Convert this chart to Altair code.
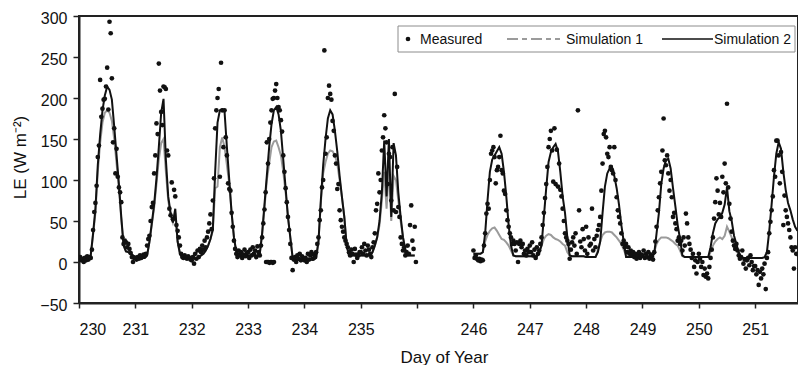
import altair as alt
import pandas as pd

# ---------------- data ----------------
TICK_LABELS = ["230", "231", "232", "233", "234", "235", "", "246", "247", "248", "249", "250", "251"]
LEGEND_LABELS = ["Measured", "Simulation 1", "Simulation 2"]
Y_TICKS = [-50, 0, 50, 100, 150, 200, 250, 300]

# Measured LE, half-hourly (W m-2)
m230 = [3, 6, 2, 4, 0, 5, 2, 7, 3, 6, 5, 15, 39, 61, 72, 93, 128, 142, 222, 177,
        187, 198, 199, 214, 237, 186, 293, 279, 224, 146, 163, 108, 138, 104, 91, 85, 73, 30, 22, 26,
        24, 18, 22, 16, 11, 6, 0, 5]
m231 = [5, 3, 6, 4, 8, 5, 7, 9, 8, 10, 20, 28, 32, 50, 67, 72, 108, 130, 169, 156,
        242, 209, 183, 167, 214, 213, 211, 136, 130, 65, 57, 97, 52, 88, 80, 45, 38, 30, 20, 10,
        6, 5, 8, 6, 4, 7, 5, 3]
m232 = [2, 6, -2, 10, 4, 14, 6, 16, 12, 20, 15, 26, 18, 30, 37, 47, 58, 40, 75, 102,
        163, 185, 200, 211, 104, 243, 185, 140, 185, 152, 130, 96, 89, 87, 60, 43, 26, 16, 10, 6,
        14, 8, 12, 5, 9, 15, 7, 11]
m233 = [12, 5, 15, 8, 18, 10, 14, 6, 19, 12, 8, 20, 30, 47, 64, 85, 146, 120, 150, 170,
        185, 199, 200, 209, 217, 200, 189, 185, 173, 159, 130, 110, 90, 73, 55, 39, 22, 5, -10, 3,
        6, 0, 8, 4, 10, 2, 7, 3]
m234 = [2, 5, 0, 10, 3, 8, 12, 4, 9, 6, 12, 22, 30, 51, 63, 91, 100, 258, 132, 152,
        200, 215, 205, 198, 172, 160, 130, 120, 89, 95, 63, 51, 43, 37, 30, 26, 22, 18, 12, 8,
        15, 10, 0, 16, 9, 5, 8, 12]
m235 = [12, 18, 10, 22, 14, 8, 20, 15, 10, 6, 18, 24, 35, 63, 71, 108, 85, 100, 136, 152,
        179, 163, 146, 95, 132, 128, 75, 140, 63, 205, 61, 116, 67, 55, 30, 22, 14, 18, 8, 12,
        20, 10, 45, 69, 26, 16, 43, 0]
m246 = [14, 5, 8, 4, 2, 4, 1, 3, 2, 20, 35, 59, 71, 65, 100, 132, 136, 140, 128, 96,
        112, 116, 128, 154, 112, 108, 87, 83, 63, 51, 43, 35, 30, 22, 26, 22, 14, 24, 0, 22,
        26, 18, 22, 10, 14, 8, 16, 12]
m247 = [20, 12, 24, 8, 15, 5, 18, 10, 14, 22, 30, 45, 60, 78, 95, 116, 140, 150, 160, 136,
        98, 163, 95, 137, 92, 120, 88, 80, 65, 50, 35, 30, 26, 22, 4, 15, 24, 30, 20, 35,
        10, 185, 63, 25, 18, 40, 28, 14]
m248 = [43, 10, 30, 20, 22, 65, 14, 28, 18, 32, 39, 45, 55, 87, 120, 156, 160, 152, 132, 128,
        140, 116, 112, 108, 140, 100, 79, 63, 55, 47, 35, 22, 26, 18, 22, 12, 18, 10, 14, 8,
        12, 6, 10, 4, 8, 12, 5, 9]
m249 = [8, 14, 5, 10, 6, 12, 4, 9, 7, 3, 12, 25, 43, 63, 79, 96, 110, 136, 175, 124,
        118, 130, 108, 87, 100, 79, 55, 60, 47, 40, 26, 30, 22, 26, 14, 30, 20, 59, 47, 30,
        22, 15, 5, 10, -6, 2, -14, 0]
m250 = [10, 4, -6, 0, -16, -8, -18, -14, -20, -6, 5, 15, 30, 53, 73, 102, 87, 58, 72, 55,
        104, 85, 120, 96, 193, 91, 71, 53, 37, 26, 20, 16, 22, 14, 8, 4, 6, 14, -2, 3,
        -8, 2, 5, -4, 8, 0, -10, -5]
m251 = [-5, -15, -10, -28, -12, -20, -8, -15, -2, -33, 5, 12, 35, 49, 63, 80, 112, 104, 148, 148,
        130, 96, 134, 110, 45, 81, 63, 55, 47, 39, 30, 18, 14, -8, 18, 10]

# extra measured points (zero readings, day 233 morning)
extra_days = [233.32, 233.34, 233.36, 233.38, 233.40, 233.42, 233.44, 233.46]
extra_vals = [0, 0, 0, -1, 0, 0, -1, 0]

# Simulation 1, hourly
s1_230 = [3, 3, 3, 3, 3, 8, 33, 60, 110, 145, 170, 182, 185, 182, 172, 150, 120, 90, 52, 20, 13, 12, 10, 8]
s1_231 = [6, 5, 5, 5, 5, 8, 24, 45, 66, 95, 125, 145, 150, 110, 75, 58, 48, 60, 25, 10, 6, 5, 5, 6]
s1_232 = [5, 4, 4, 6, 8, 10, 14, 20, 28, 38, 90, 92, 140, 152, 140, 118, 95, 60, 30, 12, 10, 9, 9, 8]
s1_233 = [8, 8, 8, 8, 8, 10, 33, 65, 100, 120, 140, 147, 148, 140, 130, 110, 85, 55, 30, 5, 3, 3, 3, 3]
s1_234 = [3, 3, 3, 3, 3, 5, 25, 72, 108, 122, 132, 136, 135, 130, 120, 100, 79, 55, 20, 8, 8, 8, 8, 8]
s1_235 = [8, 8, 8, 8, 8, 12, 20, 30, 45, 75, 110, 65, 115, 50, 105, 100, 75, 50, 30, 15, 8, 8, 8, 8]
s1_246 = [10, 10, 10, 10, 12, 25, 33, 38, 41, 42, 38, 33, 28, 27, 24, 20, 14, 8, 7, 7, 7, 7, 7, 7]
s1_247 = [7, 7, 7, 7, 10, 20, 28, 32, 34, 33, 30, 28, 27, 25, 22, 20, 12, 8, 7, 7, 7, 7, 7, 7]
s1_248 = [6, 6, 6, 6, 6, 15, 25, 33, 36, 37, 37, 36, 33, 30, 26, 22, 15, 8, 6, 6, 6, 6, 6, 6]
s1_249 = [6, 6, 6, 6, 6, 12, 22, 27, 30, 30, 30, 29, 27, 25, 22, 20, 14, 7, 6, 6, 6, 6, 6, 6]
s1_250 = [6, 6, 6, 6, 6, 12, 20, 25, 28, 30, 28, 32, 43, 37, 30, 22, 16, 10, 6, 5, 5, 5, 5, 5]

# Simulation 2, hourly
s2_230 = [3, 3, 3, 3, 3, 8, 35, 65, 118, 155, 185, 203, 214, 210, 198, 165, 130, 95, 55, 20, 13, 12, 10, 8]
s2_231 = [6, 5, 5, 5, 5, 8, 25, 47, 70, 102, 140, 182, 199, 125, 80, 60, 48, 65, 25, 10, 6, 5, 5, 6]
s2_232 = [5, 4, 4, 6, 8, 10, 14, 20, 28, 40, 110, 170, 185, 186, 183, 140, 100, 60, 30, 12, 10, 9, 9, 8]
s2_233 = [8, 8, 8, 8, 8, 10, 35, 70, 105, 140, 168, 185, 189, 180, 160, 125, 90, 55, 30, 5, 3, 3, 3, 3]
s2_234 = [3, 3, 3, 3, 3, 5, 25, 75, 118, 150, 175, 185, 180, 160, 135, 105, 79, 55, 20, 8, 8, 8, 8, 8]
s2_235 = [8, 8, 8, 8, 8, 12, 20, 30, 50, 85, 148, 80, 150, 55, 145, 130, 85, 55, 30, 15, 8, 8, 8, 8]
s2_246 = [10, 10, 10, 10, 12, 35, 75, 110, 125, 130, 135, 140, 132, 110, 80, 45, 20, 8, 7, 7, 7, 7, 7, 7]
s2_247 = [7, 7, 7, 7, 12, 20, 55, 90, 122, 134, 140, 144, 135, 110, 80, 60, 30, 8, 7, 7, 7, 7, 7, 7]
s2_248 = [6, 6, 6, 6, 6, 12, 25, 60, 92, 108, 114, 116, 105, 90, 70, 45, 25, 6, 6, 6, 6, 6, 6, 6]
s2_249 = [6, 6, 6, 6, 6, 10, 35, 60, 95, 114, 124, 126, 114, 90, 68, 45, 28, 8, 6, 6, 6, 6, 6, 6]
s2_250 = [6, 6, 6, 6, 6, 18, 35, 47, 52, 55, 60, 70, 91, 62, 50, 32, 22, 12, 6, 5, 5, 5, 5, 5]
s2_251 = [5, 5, 5, 5, 6, 12, 38, 70, 104, 132, 146, 138, 110, 88, 72, 63, 52, 43, 38]

# ---------------- build tables ----------------
def day_pos(day):
    # compressed axis: days 236-245 are left out
    return day - 230 if day < 240 else day - 239

measured = [(230, m230), (231, m231), (232, m232), (233, m233), (234, m234), (235, m235),
            (246, m246), (247, m247), (248, m248), (249, m249), (250, m250), (251, m251)]
sim1 = [(230, s1_230), (231, s1_231), (232, s1_232), (233, s1_233), (234, s1_234), (235, s1_235),
        (246, s1_246), (247, s1_247), (248, s1_248), (249, s1_249), (250, s1_250)]
sim2 = [(230, s2_230), (231, s2_231), (232, s2_232), (233, s2_233), (234, s2_234), (235, s2_235),
        (246, s2_246), (247, s2_247), (248, s2_248), (249, s2_249), (250, s2_250), (251, s2_251)]

mrows = []
for day, vals in measured:
    for k, v in enumerate(vals):
        mrows.append({"pos": day_pos(day) + k / 48.0, "le": v})
for d, v in zip(extra_days, extra_vals):
    mrows.append({"pos": day_pos(int(d)) + (d - int(d)), "le": v})
mdf = pd.DataFrame(mrows)

srows = []
for name, series in (("Simulation 1", sim1), ("Simulation 2", sim2)):
    for day, vals in series:
        for h, v in enumerate(vals):
            srows.append({"pos": day_pos(day) + h / 24.0, "le": v, "series": name,
                          "block": 1 if day < 240 else 2})
sdf = pd.DataFrame(srows)

FONT = "Liberation Sans"
label_expr = "[" + ",".join("'" + t + "'" for t in TICK_LABELS) + "][datum.value]"

x_enc = alt.X("pos:Q",
              scale=alt.Scale(domain=[0, 12.76], nice=False, zero=False),
              axis=alt.Axis(values=list(range(len(TICK_LABELS))), labelExpr=label_expr,
                            title="Day of Year", tickSize=5, labelPadding=26,
                            labelBaseline="alphabetic", titleX=365, titleY=59,
                            titleBaseline="alphabetic", titleAlign="center"))
y_enc = alt.Y("le:Q",
              scale=alt.Scale(domain=[-50, 300], nice=False, zero=False),
              axis=alt.Axis(values=Y_TICKS, title="LE (W m\u207b\u00b2)", tickSize=6,
                            labelPadding=6, labelOffset=2, titleX=-59, titleY=141,
                            titleBaseline="middle", titleAlign="center", titleAngle=270))

line1 = alt.Chart(sdf).transform_filter(alt.datum.series == "Simulation 1").mark_line(
    color="#9b9b9b", strokeWidth=2, clip=True).encode(x=x_enc, y=y_enc, detail="block:N", order="pos:Q")
line2 = alt.Chart(sdf).transform_filter(alt.datum.series == "Simulation 2").mark_line(
    color="#111111", strokeWidth=2, clip=True).encode(x=x_enc, y=y_enc, detail="block:N", order="pos:Q")
pts = alt.Chart(mdf).mark_circle(color="#111111", size=22, opacity=1, clip=True).encode(x=x_enc, y=y_enc)

one = pd.DataFrame({"k": [0]})
box = alt.Chart(one).mark_rect(fill="white", stroke="#8c8c8c", strokeWidth=1).encode(
    x=alt.value(319), x2=alt.value(716), y=alt.value(10), y2=alt.value(36))
leg_pt = alt.Chart(one).mark_circle(color="#111111", size=22, opacity=1).encode(
    x=alt.value(329), y=alt.value(23))
leg_d = alt.Chart(one).mark_rule(color="#9b9b9b", strokeWidth=2, strokeDash=[11, 4, 5, 4]).encode(
    x=alt.value(428), x2=alt.value(481), y=alt.value(23))
leg_s = alt.Chart(one).mark_rule(color="#111111", strokeWidth=1.5).encode(
    x=alt.value(583), x2=alt.value(634), y=alt.value(23))
txt_kw = dict(align="left", baseline="middle", fontSize=14, font=FONT, color="#111111")
t1 = alt.Chart(one).mark_text(text=LEGEND_LABELS[0], **txt_kw).encode(x=alt.value(341), y=alt.value(24))
t2 = alt.Chart(one).mark_text(text=LEGEND_LABELS[1], **txt_kw).encode(x=alt.value(487), y=alt.value(24))
t3 = alt.Chart(one).mark_text(text=LEGEND_LABELS[2], **txt_kw).encode(x=alt.value(635), y=alt.value(24))

chart = alt.layer(line1, line2, pts, box, leg_pt, leg_d, leg_s, t1, t2, t3).properties(
    width=719, height=287,
    background="white",
    autosize=alt.AutoSizeParams(type="none"),
    padding={"left": 79, "top": 16, "right": 0, "bottom": 62},
).configure_view(stroke="#222222", strokeWidth=2).configure_axis(
    grid=False, domainColor="#222222", domainWidth=2, tickColor="#222222", tickWidth=1.5,
    labelFont=FONT, labelFontSize=16, labelColor="#111111",
    titleFont=FONT, titleFontSize=17, titleFontWeight="normal", titleColor="#111111",
)

chart.save("out.html", embed_options={"renderer": "svg", "actions": False})
